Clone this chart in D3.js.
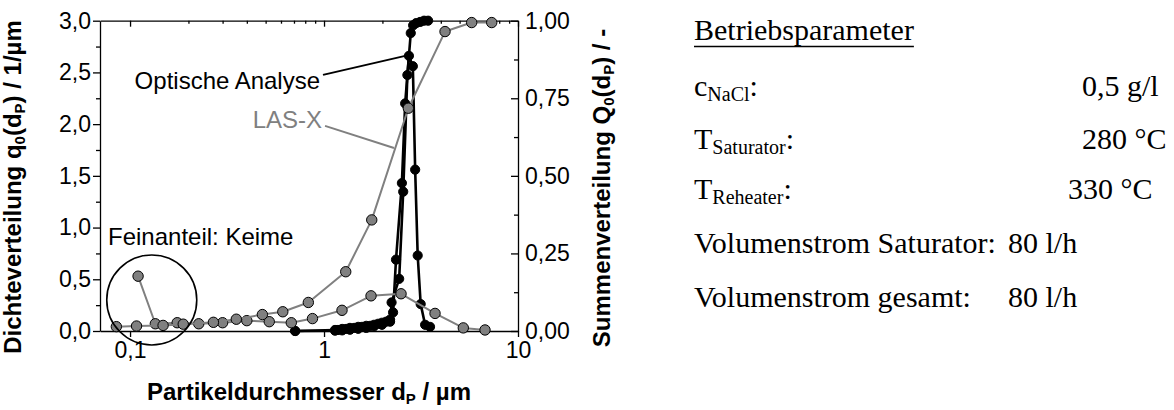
<!DOCTYPE html>
<html>
<head>
<meta charset="utf-8">
<script src="https://cdn.jsdelivr.net/npm/d3@7"></script>
<style>
  body { margin: 0; background: #fff; }
  svg { display: block; }
  .axis text { font-family: "Liberation Sans", Arial, sans-serif; font-size: 23px; fill: #000; }
  .axis path, .axis line { stroke: #000; stroke-width: 1.3; }
</style>
</head>
<body>
<div id="chart"></div>
<script>
// LAS-X, Anzahldichte q0 (linke Achse)
var lasD = [0.110, 0.135, 0.175, 0.226, 0.300, 0.400, 0.522, 0.678, 0.872, 1.238, 1.747, 2.495, 3.735, 5.224, 6.76];
var lasQ0dens = [0.53, 0.07, 0.08, 0.07, 0.08, 0.10, 0.09, 0.08, 0.12, 0.20, 0.34, 0.36, 0.17, 0.03, 0.01];

// LAS-X, Summenverteilung Q0 (rechte Achse)
var lasSumD = [0.085, 0.108, 0.148, 0.188, 0.269, 0.353, 0.481, 0.613, 0.830, 1.294, 1.762, 2.72, 4.205, 5.77, 7.32];
var lasQ0sum = [0.014, 0.016, 0.018, 0.022, 0.028, 0.038, 0.053, 0.062, 0.092, 0.191, 0.358, 0.718, 0.965, 0.994, 0.994];

// optische Analyse, Anzahldichte q0
var optD = [0.71, 1.14, 1.18, 1.24, 1.30, 1.36, 1.43, 1.50, 1.57, 1.65, 1.73, 1.81, 1.90, 1.99, 2.09, 2.19,
            2.27, 2.35, 2.52, 2.62, 2.74, 2.87, 2.95, 3.04, 3.15, 3.32, 3.52];
var optQ0dens = [0.00, 0.01, 0.01, 0.02, 0.02, 0.03, 0.03, 0.04, 0.04, 0.05, 0.05, 0.06, 0.07, 0.08, 0.09, 0.11,
                 0.18, 0.69, 1.43, 2.20, 2.66, 2.56, 1.56, 0.73, 0.26, 0.06, 0.04];

// optische Analyse, Summenverteilung Q0
var optSumD = [0.71, 1.14, 1.24, 1.36, 1.50, 1.65, 1.81, 1.99, 2.19, 2.23, 2.44, 2.56, 2.69, 2.80, 2.88, 2.98, 3.13, 3.28, 3.44];
var optQ0sum = [0.000, 0.001, 0.002, 0.004, 0.007, 0.010, 0.015, 0.020, 0.030, 0.092, 0.168, 0.449, 0.825, 0.960, 0.985, 0.992, 0.996, 1.000, 1.000];

var xTicks = [0.1, 1, 10];
var xTickLabels = ["0,1", "1", "10"];
var xMinor = [0.2, 0.3, 0.4, 0.5, 0.6, 0.7, 0.8, 0.9, 2, 3, 4, 5, 6, 7, 8, 9];
var yLeftTicks = [0, 0.5, 1, 1.5, 2, 2.5, 3];
var yLeftLabels = ["0,0", "0,5", "1,0", "1,5", "2,0", "2,5", "3,0"];
var yLeftMinor = [0.25, 0.75, 1.25, 1.75, 2.25, 2.75];
var yRightTicks = [0, 0.25, 0.5, 0.75, 1];
var yRightLabels = ["0,00", "0,25", "0,50", "0,75", "1,00"];
var yRightMinor = [0.125, 0.375, 0.625, 0.875];

var paramNames = ["c", "T", "T", "Volumenstrom Saturator", "Volumenstrom gesamt"];
var paramSubs = ["NaCl", "Saturator", "Reheater", "", ""];
var paramValues = ["0,5 g/l", "280 °C", "330 °C", "80 l/h", "80 l/h"];

var margin = { top: 20.7, right: 656, bottom: 79, left: 100 },
    width = 418,
    height = 310.3;

var svg = d3.select("#chart").append("svg")
    .attr("width", 1174)
    .attr("height", 410);

var g = svg.append("g")
    .attr("transform", "translate(" + margin.left + "," + margin.top + ")");

var x = d3.scaleLog().domain([0.07, 10]).range([0, width]);
var yL = d3.scaleLinear().domain([0, 3]).range([height, 0]);
var yR = d3.scaleLinear().domain([0, 1]).range([height, 0]);

function fmt(values, labels) {
    return function (d) { return labels[values.indexOf(d)]; };
}

// axes
g.append("g").attr("class", "axis")
    .attr("transform", "translate(0," + height + ")")
    .call(d3.axisBottom(x).tickValues(xTicks).tickFormat(fmt(xTicks, xTickLabels))
        .tickSizeInner(6).tickSizeOuter(0).tickPadding(5));

g.append("g").attr("class", "axis")
    .call(d3.axisTop(x).tickValues(xTicks).tickFormat("").tickSizeInner(-6).tickSizeOuter(0));
g.append("g").attr("class", "axis")
    .call(d3.axisTop(x).tickValues(xMinor).tickFormat("").tickSizeInner(-3).tickSizeOuter(0))
    .select(".domain").remove();

g.append("g").attr("class", "axis")
    .call(d3.axisLeft(yL).tickValues(yLeftTicks).tickFormat(fmt(yLeftTicks, yLeftLabels))
        .tickSizeInner(7).tickSizeOuter(0).tickPadding(2));
g.append("g").attr("class", "axis")
    .call(d3.axisLeft(yL).tickValues(yLeftMinor).tickFormat("").tickSizeInner(4).tickSizeOuter(0))
    .select(".domain").remove();

g.append("g").attr("class", "axis")
    .attr("transform", "translate(" + width + ",0)")
    .call(d3.axisRight(yR).tickValues(yRightTicks).tickFormat(fmt(yRightTicks, yRightLabels))
        .tickSizeInner(-7).tickSizeOuter(0).tickPadding(7));
g.append("g").attr("class", "axis")
    .attr("transform", "translate(" + width + ",0)")
    .call(d3.axisRight(yR).tickValues(yRightMinor).tickFormat("").tickSizeInner(-4).tickSizeOuter(0))
    .select(".domain").remove();

// zip x/y arrays into point lists
function pts(xs, ys) {
    return xs.map(function (d, i) { return { d: d, v: ys[i] }; });
}

function drawSeries(data, yScale, lineColor, lineWidth, dotFill, dotStroke, r) {
    var line = d3.line()
        .x(function (p) { return x(p.d); })
        .y(function (p) { return yScale(p.v); });
    g.append("path")
        .datum(data)
        .attr("fill", "none")
        .attr("stroke", lineColor)
        .attr("stroke-width", lineWidth)
        .attr("stroke-linejoin", "round")
        .attr("d", line);
    g.append("g").selectAll("circle")
        .data(data)
        .enter().append("circle")
        .attr("cx", function (p) { return x(p.d); })
        .attr("cy", function (p) { return yScale(p.v); })
        .attr("r", r)
        .attr("fill", dotFill)
        .attr("stroke", dotStroke)
        .attr("stroke-width", 1);
}

var grey = "#808080";
drawSeries(pts(optD, optQ0dens), yL, "#000", 2.6, "#000", "#000", 4.6);
drawSeries(pts(optSumD, optQ0sum), yR, "#000", 2.6, "#000", "#000", 4.6);
drawSeries(pts(lasD, lasQ0dens), yL, grey, 2, grey, "#000", 5.2);
drawSeries(pts(lasSumD, lasQ0sum), yR, grey, 2, grey, "#000", 5.2);

// annotations (positions in data units)
var annoFont = "\"Liberation Sans\", Arial, sans-serif";

g.append("line")
    .attr("x1", x(0.988)).attr("y1", yL(2.476))
    .attr("x2", x(2.62)).attr("y2", yL(2.66))
    .attr("stroke", "#000").attr("stroke-width", 2);
g.append("text")
    .attr("x", x(0.954)).attr("y", yL(2.34))
    .attr("text-anchor", "end")
    .style("font-family", annoFont).style("font-size", "24px")
    .text("Optische Analyse");

g.append("line")
    .attr("x1", x(1.012)).attr("y1", yL(1.983))
    .attr("x2", x(2.295)).attr("y2", yL(1.77))
    .attr("stroke", grey).attr("stroke-width", 2);
g.append("text")
    .attr("x", x(0.977)).attr("y", yL(1.963))
    .attr("text-anchor", "end")
    .attr("fill", grey)
    .style("font-family", annoFont).style("font-size", "24px")
    .text("LAS-X");

g.append("circle")
    .attr("cx", x(0.1294)).attr("cy", yL(0.30))
    .attr("r", 45)
    .attr("fill", "none").attr("stroke", "#000").attr("stroke-width", 1.6);
g.append("text")
    .attr("x", x(0.077)).attr("y", yL(0.832))
    .style("font-family", annoFont).style("font-size", "24px")
    .text("Feinanteil: Keime");

// axis titles
var titleFont = "\"Liberation Sans\", Arial, sans-serif";

function title(parent, parts) {
    var t = parent.append("text")
        .attr("text-anchor", "middle")
        .style("font-family", titleFont)
        .style("font-weight", "bold")
        .style("font-size", "24px");
    parts.forEach(function (p) {
        t.append("tspan")
            .attr("baseline-shift", p[1] ? "-25%" : null)
            .style("font-size", p[1] ? "15px" : null)
            .text(p[0]);
    });
    return t;
}

title(svg, [["Partikeldurchmesser d"], ["P", 1], [" / µm"]])
    .attr("x", margin.left + width / 2).attr("y", 400);

title(svg, [["Dichteverteilung q"], ["0", 1], ["(d"], ["P", 1], [") / 1/µm"]])
    .attr("transform", "translate(21,187) rotate(-90)");

title(svg, [["Summenverteilung Q"], ["0", 1], ["(d"], ["P", 1], [") / -"]])
    .attr("transform", "translate(610,188) rotate(-90)");

// operating parameters
var serif = "\"Liberation Serif\", \"Times New Roman\", serif";
var panelX = 694;
var rowY = [96, 149, 199, 253, 307];
var valueX = [1082, 1082, 1068, 1008, 1008];

var head = svg.append("text")
    .attr("x", panelX).attr("y", 40)
    .style("font-family", serif).style("font-size", "30px")
    .text("Betriebsparameter");
var hw = head.node().getComputedTextLength();
svg.append("line")
    .attr("x1", panelX).attr("x2", panelX + hw)
    .attr("y1", 46.5).attr("y2", 46.5)
    .attr("stroke", "#000").attr("stroke-width", 1.5);

paramNames.forEach(function (name, i) {
    var t = svg.append("text")
        .attr("x", panelX).attr("y", rowY[i])
        .style("font-family", serif).style("font-size", "30px");
    t.append("tspan").text(name);
    if (paramSubs[i]) {
        t.append("tspan").attr("dy", 5).style("font-size", "20px").text(paramSubs[i]);
        t.append("tspan").attr("dy", -5).text(":");
    } else {
        t.append("tspan").text(":");
    }
    svg.append("text")
        .attr("x", valueX[i]).attr("y", rowY[i])
        .style("font-family", serif).style("font-size", "30px")
        .text(paramValues[i]);
});
</script>
</body>
</html>
